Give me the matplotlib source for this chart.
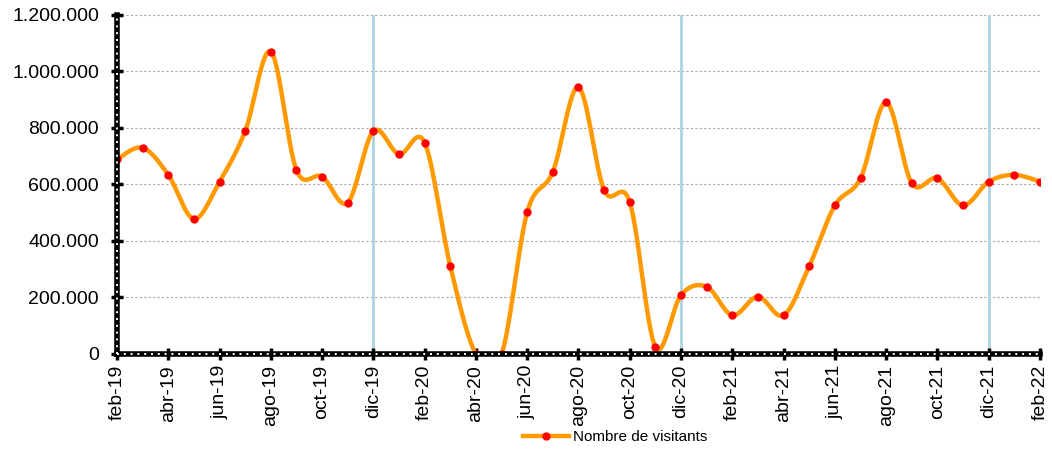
import numpy as np
import matplotlib
matplotlib.use("Agg")
import matplotlib.pyplot as plt
from matplotlib.ticker import FuncFormatter
from matplotlib.lines import Line2D

plt.rcParams['font.family'] = ['Liberation Sans', 'DejaVu Sans']

# monthly visitors, feb-19 .. feb-22
months = ["feb-19", "mar-19", "abr-19", "may-19", "jun-19", "jul-19", "ago-19", "sep-19",
          "oct-19", "nov-19", "dic-19", "ene-20", "feb-20", "mar-20", "abr-20", "may-20",
          "jun-20", "jul-20", "ago-20", "sep-20", "oct-20", "nov-20", "dic-20", "ene-21",
          "feb-21", "mar-21", "abr-21", "may-21", "jun-21", "jul-21", "ago-21", "sep-21",
          "oct-21", "nov-21", "dic-21", "ene-22", "feb-22"]
visitors = [689000, 730000, 634000, 478000, 610000, 789000, 1070000, 651000,
            628000, 536000, 789000, 707000, 748000, 311000, 0, 0,
            502000, 645000, 944000, 580000, 537000, 25000, 209000, 238000,
            137000, 203000, 137000, 311000, 526000, 622000, 891000, 604000,
            622000, 526000, 610000, 634000, 610000]
year_marks = ["dic-19", "dic-20", "dic-21"]


def smooth_curve(x, y, n=30):
    # Catmull-Rom style bezier, similar to spreadsheet "smoothed line"
    x = np.asarray(x, float)
    y = np.asarray(y, float)
    xs, ys = [], []
    for i in range(len(x) - 1):
        p0 = i - 1 if i > 0 else i
        p3 = i + 2 if i + 2 < len(x) else i + 1
        c1x = x[i] + (x[i + 1] - x[p0]) / 6
        c1y = y[i] + (y[i + 1] - y[p0]) / 6
        c2x = x[i + 1] - (x[p3] - x[i]) / 6
        c2y = y[i + 1] - (y[p3] - y[i]) / 6
        t = np.linspace(0, 1, n, endpoint=False)
        b0, b1, b2, b3 = (1 - t) ** 3, 3 * t * (1 - t) ** 2, 3 * t ** 2 * (1 - t), t ** 3
        xs.append(b0 * x[i] + b1 * c1x + b2 * c2x + b3 * x[i + 1])
        ys.append(b0 * y[i] + b1 * c1y + b2 * c2y + b3 * y[i + 1])
    xs.append([x[-1]])
    ys.append([y[-1]])
    return np.concatenate(xs), np.concatenate(ys)


fig = plt.figure(figsize=(10.52, 4.54), dpi=100)
ax = fig.add_axes([0.1112, 0.2203, 0.8774, 0.7467])

xpos = np.arange(len(months))
orange = "#FF9900"

for m in year_marks:
    ax.axvline(months.index(m), color="#A9D6E2", lw=2, zorder=1)

for v in range(200000, 1200001, 200000):
    ax.axhline(v, color="#a6a6a6", lw=0.8, ls=(0, (2, 2)), zorder=0)

sx, sy = smooth_curve(xpos, visitors)
ax.plot(sx, sy, color=orange, lw=3.2, zorder=3, solid_capstyle="round")
ax.plot(xpos, visitors, "o", color="#FF0000", ms=5, zorder=4)

ax.set_xlim(0, len(months) - 1)
ax.set_ylim(0, 1200000)
ax.set_xticks(xpos[::2])
ax.set_xticklabels(months[::2], rotation=90)
ax.set_yticks(range(0, 1200001, 200000))
ax.yaxis.set_major_formatter(FuncFormatter(lambda v, p: f"{int(v):,}".replace(",", ".")))
ax.tick_params(axis="both", direction="inout", length=8, width=2.5, color="black",
               labelsize=14)
ax.tick_params(axis="y", pad=9)
ax.tick_params(axis="x", pad=4)

for s in ["top", "right"]:
    ax.spines[s].set_visible(False)
for s in ["left", "bottom"]:
    ax.spines[s].set_linewidth(4)
    ax.spines[s].set_color("black")
    ax.spines[s].set_zorder(5)

# white dotted pattern on the axis lines
ax.plot([0, 1], [0, 0], transform=ax.transAxes, color="white", lw=1.4,
        ls=(0, (1, 2.5)), zorder=6, clip_on=False)
ax.plot([0, 0], [0, 1], transform=ax.transAxes, color="white", lw=1.4,
        ls=(0, (1, 2.5)), zorder=6, clip_on=False)

handle = Line2D([], [], color=orange, lw=3.2, marker="o", markerfacecolor="#FF0000",
                markeredgecolor="#FF0000", ms=5)
fig.legend([handle], ["Nombre de visitants"], loc="center",
           bbox_to_anchor=(0.585, 0.037), frameon=False, fontsize=11,
           handlelength=3, handletextpad=0.3)

fig.savefig("out.png", dpi=100)
